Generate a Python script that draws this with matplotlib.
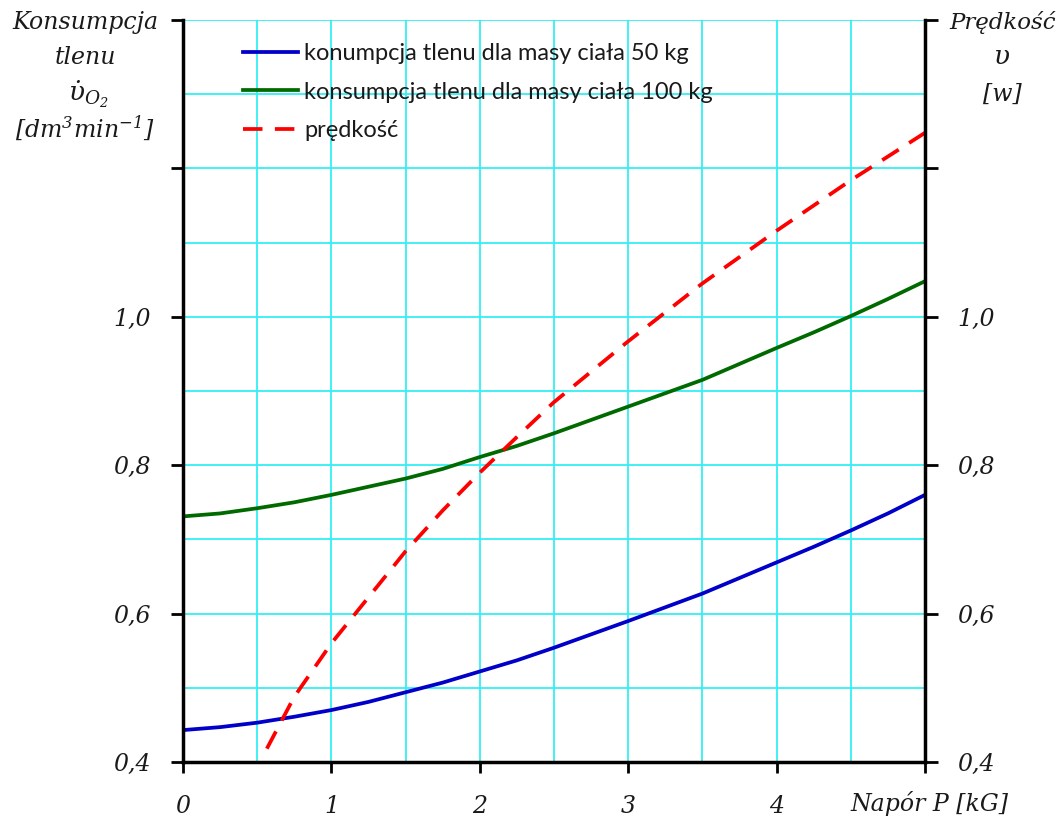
import matplotlib
matplotlib.use("Agg")
import matplotlib.pyplot as plt
from matplotlib.ticker import MultipleLocator

# napór P [kG] and read-off values
p_vals = [0, 0.25, 0.5, 0.75, 1, 1.25, 1.5, 1.75, 2, 2.25, 2.5, 2.75, 3,
          3.5, 4, 4.25, 4.5, 4.75, 5]
o2_50kg = [0.443, 0.447, 0.453, 0.461, 0.470, 0.481, 0.494, 0.507, 0.522, 0.537,
           0.554, 0.572, 0.590, 0.627, 0.669, 0.690, 0.712, 0.735, 0.760]
o2_100kg = [0.731, 0.735, 0.742, 0.750, 0.760, 0.771, 0.782, 0.795, 0.811, 0.826,
            0.843, 0.861, 0.879, 0.915, 0.958, 0.979, 1.001, 1.024, 1.048]

p_speed = [0.565, 0.75, 1, 1.25, 1.5, 1.75, 2, 2.25, 2.5, 3, 3.5, 4, 4.5, 5]
speed = [0.418, 0.488, 0.560, 0.622, 0.684, 0.739, 0.790, 0.838, 0.885, 0.967,
         1.045, 1.116, 1.184, 1.248]

y_ticks = [0.4, 0.6, 0.8, 1.0, 1.2, 1.4]
y_labels = ["0,4", "0,6", "0,8", "1,0", "", ""]
x_ticks = [0, 1, 2, 3, 4, 5]
x_labels = ["0", "1", "2", "3", "4", ""]

labels = [
    "konumpcja tlenu dla masy ciała 50 kg",
    "konsumpcja tlenu dla masy ciała 100 kg",
    "prędkość",
]

plt.rcParams["mathtext.fontset"] = "custom"
plt.rcParams["mathtext.it"] = "DejaVu Serif:italic"
plt.rcParams["mathtext.rm"] = "DejaVu Serif:italic"

serif = dict(family="DejaVu Serif", style="italic", color="#1a1a1a")

fig = plt.figure(figsize=(10.62, 8.21), dpi=100)
ax = fig.add_axes([183 / 1062, 1 - 762 / 821, (925 - 183) / 1062, (762 - 20) / 821])

ax.plot(p_vals, o2_50kg, color="#0000C8", lw=2.7, label=labels[0])
ax.plot(p_vals, o2_100kg, color="#006A00", lw=2.7, label=labels[1])
ax.plot(p_speed, speed, color="#FF0000", lw=2.7, ls=(0, (5.2, 3.3)), label=labels[2])

ax.set_xlim(0, 5)
ax.set_ylim(0.4, 1.4)

ax.xaxis.set_minor_locator(MultipleLocator(0.5))
ax.yaxis.set_minor_locator(MultipleLocator(0.1))
ax.grid(True, which="both", color="#33F0F5", lw=1.3)
ax.set_axisbelow(True)

ax.set_xticks(x_ticks)
ax.set_xticklabels(x_labels)
ax.set_yticks(y_ticks)
ax.set_yticklabels(y_labels)

ax.spines["top"].set_visible(False)
for s in ["left", "right", "bottom"]:
    ax.spines[s].set_linewidth(2.5)
    ax.spines[s].set_color("black")

ax.tick_params(axis="y", which="major", direction="out", length=9, width=2,
               left=True, right=True, labelleft=True, labelright=True, pad=14)
ax.tick_params(axis="x", which="major", direction="out", length=8, width=2,
               bottom=True, top=False, pad=16)
ax.tick_params(which="minor", length=0)
for t in ax.xaxis.get_major_ticks() + ax.yaxis.get_major_ticks():
    for lab in (t.label1, t.label2):
        lab.set_fontfamily("DejaVu Serif")
        lab.set_fontstyle("italic")
        lab.set_fontsize(17)
        lab.set_color("#1a1a1a")

leg = ax.legend(loc="upper left", bbox_to_anchor=(243 / 1062, 1 - 43 / 821),
                bbox_transform=fig.transFigure, frameon=False,
                prop=dict(family="Lato", size=17), handlelength=2.35,
                handletextpad=0.25, labelspacing=0.75, borderaxespad=0,
                borderpad=0)
for t in leg.get_texts():
    t.set_color("#1a1a1a")

# axis titles
fig.text(85 / 1062, 1 - 22 / 821, "Konsumpcja", ha="center", va="center", fontsize=17, **serif)
fig.text(85 / 1062, 1 - 57 / 821, "tlenu", ha="center", va="center", fontsize=17, **serif)
fig.text(88 / 1062, 1 - 94 / 821, r"$\dot{\upsilon}_{O_2}$", ha="center", va="center",
         fontsize=19, color="#1a1a1a")
fig.text(85 / 1062, 1 - 128 / 821, r"[dm$^3$min$^{-1}$]", ha="center", va="center",
         fontsize=17, **serif)

fig.text(1056 / 1062, 1 - 22 / 821, "Prędkość", ha="right", va="center", fontsize=16.5, **serif)
fig.text(1002 / 1062, 1 - 57 / 821, r"$\upsilon$", ha="center", va="center", fontsize=19,
         color="#1a1a1a")
fig.text(1002 / 1062, 1 - 94 / 821, "[w]", ha="center", va="center", fontsize=17, **serif)

fig.text(850 / 1062, 1 - 803 / 821, "Napór P [kG]", ha="left", va="center", fontsize=17, **serif)

fig.savefig("out.png", dpi=100)
